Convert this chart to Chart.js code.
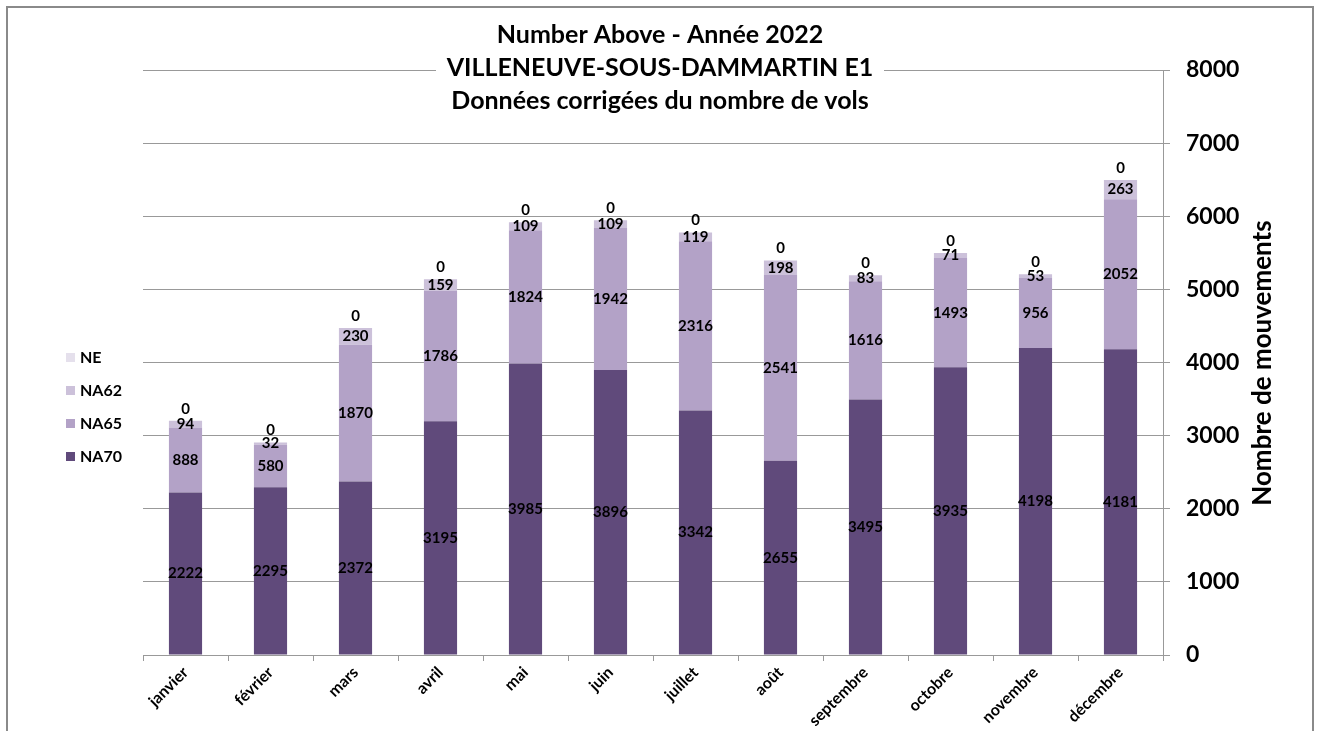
<!DOCTYPE html>
<html>
<head>
<meta charset="utf-8">
<script src="https://cdn.jsdelivr.net/npm/chart.js@4.4.1/dist/chart.umd.min.js"></script>
<style>
  html, body { margin: 0; padding: 0; background: #fff; }
  #wrap { position: relative; width: 1317px; height: 731px; }
</style>
</head>
<body>
<div id="wrap"><canvas id="c" width="1317" height="731"></canvas></div>
<script>
const categories = ['janvier','février','mars','avril','mai','juin','juillet','août','septembre','octobre','novembre','décembre'];
const NA70 = [2222, 2295, 2372, 3195, 3985, 3896, 3342, 2655, 3495, 3935, 4198, 4181];
const NA65 = [888, 580, 1870, 1786, 1824, 1942, 2316, 2541, 1616, 1493, 956, 2052];
const NA62 = [94, 32, 230, 159, 109, 109, 119, 198, 83, 71, 53, 263];
const NE   = [0, 0, 0, 0, 0, 0, 0, 0, 0, 0, 0, 0];
const yTicks = [0, 1000, 2000, 3000, 4000, 5000, 6000, 7000, 8000];
const titleLines = ['Number Above - Année 2022', 'VILLENEUVE-SOUS-DAMMARTIN E1', 'Données corrigées du nombre de vols'];
const yTitle = 'Nombre de mouvements';

const FONT = 'Lato, "Open Sans", sans-serif';
const colors = { NA70: '#604A7B', NA65: '#B3A2C7', NA62: '#CCC1DA', NE: '#E5E0EC' };

Chart.defaults.font.family = FONT;
Chart.defaults.font.weight = 'bold';
Chart.defaults.color = '#000';

const frame = {
  id: 'frame',
  beforeDraw(chart) {
    const ctx = chart.ctx;
    ctx.save();
    ctx.fillStyle = '#fff';
    ctx.fillRect(0, 0, chart.width, chart.height);
    ctx.strokeStyle = '#8a8a8a';
    ctx.lineWidth = 2;
    ctx.beginPath();
    ctx.moveTo(7, chart.height + 5);
    ctx.lineTo(7, 7);
    ctx.lineTo(1313, 7);
    ctx.lineTo(1313, chart.height + 5);
    ctx.stroke();
    ctx.restore();
  }
};

const labelsPlugin = {
  id: 'segLabels',
  afterDatasetsDraw(chart) {
    const ctx = chart.ctx;
    ctx.save();
    ctx.font = 'bold 15px ' + FONT;
    ctx.fillStyle = '#000';
    ctx.textAlign = 'center';
    ctx.textBaseline = 'middle';
    chart.data.datasets.forEach((ds, di) => {
      const meta = chart.getDatasetMeta(di);
      meta.data.forEach((bar, i) => {
        const v = ds.data[i];
        let y;
        if (ds.label === 'NE') {
          y = bar.y - 12;
        } else {
          y = (bar.y + bar.base) / 2;
        }
        ctx.fillText(String(v), bar.x, y);
      });
    });
    ctx.restore();
  }
};

const decor = {
  id: 'decor',
  afterDraw(chart) {
    const ctx = chart.ctx;
    ctx.save();
    // title with white backing
    ctx.fillStyle = '#fff';
    ctx.fillRect(436, 56, 448, 28);
    ctx.fillStyle = '#000';
    ctx.font = 'bold 25px ' + FONT;
    ctx.textAlign = 'center';
    ctx.textBaseline = 'middle';
    const ys = [35, 68, 101];
    titleLines.forEach((t, k) => ctx.fillText(t, 660, ys[k]));
    // y axis title (bottom-to-top)
    ctx.save();
    ctx.translate(1263, 363);
    ctx.rotate(-Math.PI / 2);
    ctx.font = 'bold 26px ' + FONT;
    ctx.fillText(yTitle, 0, 0);
    ctx.restore();
    // legend
    const items = ['NE', 'NA62', 'NA65', 'NA70'];
    const ly = [358, 391, 424, 457];
    ctx.font = 'bold 16px ' + FONT;
    ctx.textAlign = 'left';
    items.forEach((name, k) => {
      ctx.fillStyle = colors[name];
      ctx.fillRect(66, ly[k] - 5, 9, 9);
      ctx.fillStyle = '#000';
      ctx.fillText(name, 80, ly[k]);
    });
    ctx.restore();
  }
};

new Chart(document.getElementById('c'), {
  type: 'bar',
  data: {
    labels: categories,
    datasets: [
      { label: 'NA70', data: NA70, backgroundColor: colors.NA70 },
      { label: 'NA65', data: NA65, backgroundColor: colors.NA65 },
      { label: 'NA62', data: NA62, backgroundColor: colors.NA62 },
      { label: 'NE',   data: NE,   backgroundColor: colors.NE }
    ]
  },
  options: {
    responsive: false,
    animation: false,
    layout: { padding: { left: 143, top: 70, right: 0, bottom: 0 } },
    datasets: { bar: { barPercentage: 0.39, categoryPercentage: 1.0 } },
    plugins: {
      legend: { display: false },
      title: { display: false },
      tooltip: { enabled: false }
    },
    scales: {
      x: {
        stacked: true,
        grid: { display: true, drawOnChartArea: false, drawTicks: true, tickLength: 6, color: '#999', offset: true },
        border: { display: true, color: '#999', width: 1 },
        ticks: {
          color: '#000',
          font: { family: FONT, weight: 'bold', size: 16 },
          maxRotation: 45, minRotation: 45, padding: 2, autoSkip: false
        },
        afterFit(scale) { scale.height = 76; }
      },
      y: {
        stacked: true,
        position: 'right',
        min: 0, max: 8000,
        afterBuildTicks(scale) { scale.ticks = yTicks.map(v => ({ value: v })); },
        grid: { color: '#999', lineWidth: 1, drawTicks: true, tickLength: 7 },
        border: { display: true, color: '#999', width: 1 },
        ticks: {
          color: '#000',
          font: { family: FONT, weight: 'bold', size: 23 },
          padding: 16,
          callback: (v) => String(v)
        },
        afterFit(scale) { scale.width = 154; }
      }
    }
  },
  plugins: [frame, labelsPlugin, decor]
});
</script>
</body>
</html>
